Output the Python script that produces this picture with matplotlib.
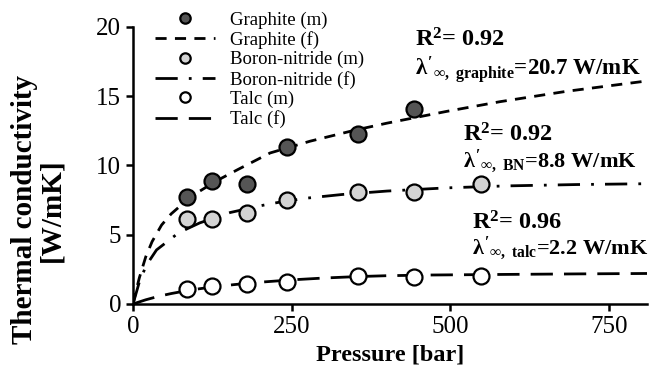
import matplotlib
matplotlib.use("Agg")
import matplotlib.pyplot as plt

plt.rcParams["font.family"] = ["Liberation Serif", "DejaVu Serif"]
plt.rcParams["mathtext.fontset"] = "custom"
plt.rcParams["mathtext.rm"] = "Liberation Serif:bold"
plt.rcParams["mathtext.it"] = "Liberation Serif:bold"
plt.rcParams["mathtext.bf"] = "Liberation Serif:bold"

# measured points (pressure in bar, conductivity in W/mK)
p_graphite = [85, 124, 180, 243, 355, 443]
k_graphite = [7.75, 8.85, 8.65, 11.3, 12.25, 14.1]
p_bn = [85, 124, 180, 243, 355, 443, 549]
k_bn = [6.1, 6.15, 6.6, 7.5, 8.05, 8.1, 8.65]
p_talc = [85, 124, 180, 243, 355, 443, 549]
k_talc = [1.06, 1.3, 1.47, 1.6, 2.0, 1.95, 2.05]

# fitted curves
pf_graphite = [0, 5, 10, 20, 30, 45, 60, 80, 100, 130, 165, 216, 279, 350, 400, 494, 578, 683, 810]
kf_graphite = [0, 1.0, 1.9, 3.4, 4.5, 5.7, 6.5, 7.3, 8.0, 8.85, 9.7, 10.9, 11.75, 12.55, 13.05, 13.9, 14.6, 15.35, 16.1]
pf_bn = [0, 10, 21, 37, 68, 84, 105, 153, 202, 231, 276, 329, 400, 494, 586, 699, 810]
kf_bn = [0, 1.6, 2.8, 3.9, 5.0, 5.4, 5.85, 6.6, 7.1, 7.35, 7.65, 7.9, 8.15, 8.38, 8.52, 8.62, 8.68]
pf_talc = [0, 20, 40, 60, 80, 105, 130, 160, 200, 250, 300, 350, 400, 470, 580, 700, 810]
kf_talc = [0, 0.3, 0.55, 0.75, 0.92, 1.1, 1.25, 1.4, 1.57, 1.74, 1.87, 1.97, 2.04, 2.09, 2.13, 2.17, 2.2]

fig = plt.figure(figsize=(6.49, 3.79), dpi=100)
ax = fig.add_axes([0.205, 0.198, 0.792, 0.731])

lw = 2.0
ms = 11.5
ax.plot(p_graphite, k_graphite, "o", ms=ms, mfc="#555555", mec="black", mew=1.6, label="Graphite (m)", zorder=3)
ax.plot(pf_graphite, kf_graphite, color="black", lw=lw, dashes=(4, 3), label="Graphite (f)", zorder=2)
ax.plot(p_bn, k_bn, "o", ms=ms, mfc="#d3d3d3", mec="black", mew=1.6, label="Boron-nitride (m)", zorder=3)
ax.plot(pf_bn, kf_bn, color="black", lw=lw, dashes=(8, 4, 1, 4), label="Boron-nitride (f)", zorder=2)
ax.plot(p_talc, k_talc, "o", ms=ms, mfc="white", mec="black", mew=1.6, label="Talc (m)", zorder=3)
ax.plot(pf_talc, kf_talc, color="black", lw=lw, dashes=(8, 4), label="Talc (f)", zorder=2)

ax.set_xlim(0, 810)
ax.set_ylim(0, 20)
ax.set_xticks([0, 250, 500, 750])
ax.set_yticks([0, 5, 10, 15, 20])
for s in ["top", "right"]:
    ax.spines[s].set_visible(False)
for s in ["left", "bottom"]:
    ax.spines[s].set_linewidth(1.8)
ax.tick_params(direction="out", length=5, width=1.8, labelsize=18)
ax.set_xlabel("Pressure [bar]", fontsize=17.5, fontweight="bold", labelpad=5)
fig.text(38 / 649, 1 - 210 / 379, "Thermal conductivity\n[W/mK]", rotation=90, fontsize=21,
         fontweight="bold", ha="center", va="center", linespacing=1.0, multialignment="center")

ax.legend(loc="upper left", bbox_to_anchor=(0.225, 0.995), bbox_transform=fig.transFigure,
          frameon=False, fontsize=13.5, handlelength=3.2, handletextpad=0.8,
          labelspacing=0.12, borderpad=0, markerscale=0.65)

fr = 17.5
ax.text(444, 18.55, r"R$^{\mathbf{2}}$= 0.92", fontsize=fr, fontweight="bold", ha="left", va="baseline")
ax.text(444, 16.5, r"$\lambda'_{\infty,\ graphite}$=20.7 W/mK", fontsize=16.5, fontweight="bold", ha="left", va="baseline")
ax.text(520, 11.7, r"R$^{\mathbf{2}}$= 0.92", fontsize=fr, fontweight="bold", ha="left", va="baseline")
ax.text(520, 9.9, r"$\lambda'_{\infty,\ BN}$=8.8 W/mK", fontsize=16, fontweight="bold", ha="left", va="baseline")
ax.text(534, 5.35, r"R$^{\mathbf{2}}$= 0.96", fontsize=fr, fontweight="bold", ha="left", va="baseline")
ax.text(534, 3.6, r"$\lambda'_{\infty,\ talc}$=2.2 W/mK", fontsize=16, fontweight="bold", ha="left", va="baseline")

fig.savefig("out.png", dpi=100)
